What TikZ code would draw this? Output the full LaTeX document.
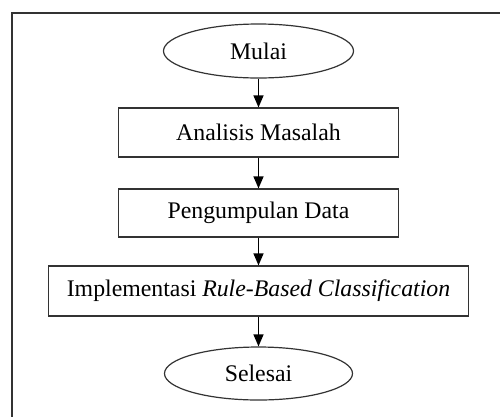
\documentclass[tikz,border=0pt]{standalone}
\usepackage{fontspec}
\setmainfont{Liberation Serif}
\usetikzlibrary{arrows.meta,shapes.geometric}
\begin{document}
\begin{tikzpicture}[x=1pt,y=-1pt,
  every node/.style={font=\fontsize{23.8}{28}\selectfont, text=black, inner sep=0pt},
  proc/.style={draw=black!80, line width=1.2pt, rectangle, minimum height=49pt},
  term/.style={draw=black!80, line width=1.2pt, ellipse, minimum width=190pt, minimum height=54pt},
  flow/.style={draw=black, line width=1.2pt, -{Triangle[width=10pt,length=12pt]}}]
\useasboundingbox (0,0) rectangle (500,416);
\fill[white] (0,0) rectangle (500,416);
\draw[black!80, line width=2.2pt] (12,417) -- (12,13) -- (501,13);
\node[term] (mulai) at (258.5,51) {Mulai};
\node[proc, minimum width=280pt] (analisis) at (258.5,132.5) {Analisis Masalah};
\node[proc, minimum width=280pt, minimum height=48pt] (data) at (258.5,213) {Pengumpulan Data};
\node[proc, minimum width=420pt, minimum height=50pt] (impl) at (258.5,291) {Implementasi \textit{Rule-Based Classification}};
\node[term, minimum width=188pt, minimum height=53pt] (selesai) at (258.5,373.5) {Selesai};
\draw[flow] (mulai) -- (analisis);
\draw[flow] (analisis) -- (data);
\draw[flow] (data) -- (impl);
\draw[flow] (impl) -- (selesai);
\end{tikzpicture}
\end{document}
